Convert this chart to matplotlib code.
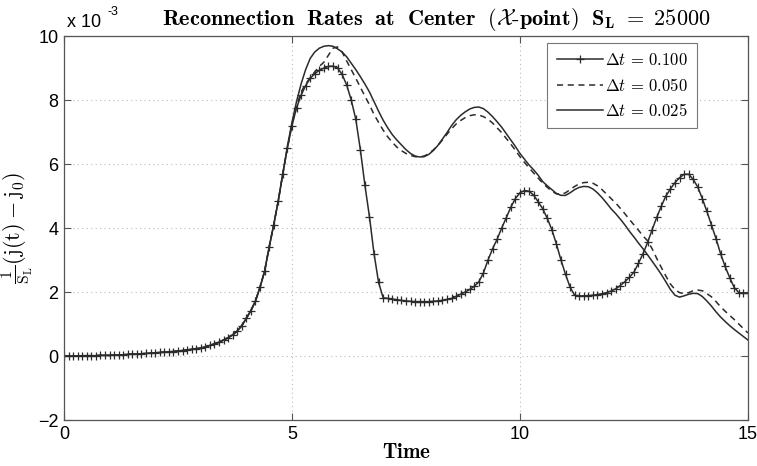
import numpy as np
import matplotlib
matplotlib.use("Agg")
import matplotlib.pyplot as plt

plt.rcParams['mathtext.fontset'] = 'cm'
plt.rcParams['font.family'] = ['Liberation Sans', 'DejaVu Sans']

# time samples of the coarse run (every 0.1)
t = np.round(np.arange(0, 151) * 0.1, 1)

# (j(t) - j0)/S_L, in units of 1e-3
rate_100 = [
    0.00, 0.00, 0.00, 0.00, 0.01, 0.01, 0.01, 0.01, 0.02, 0.02,
    0.02, 0.03, 0.03, 0.04, 0.05, 0.06, 0.06, 0.07, 0.08, 0.09,
    0.10, 0.11, 0.12, 0.13, 0.14, 0.16, 0.17, 0.19, 0.21, 0.23,
    0.25, 0.28, 0.33, 0.38, 0.43, 0.50, 0.57, 0.66, 0.78, 0.95,
    1.18, 1.42, 1.72, 2.15, 2.65, 3.40, 4.10, 4.85, 5.70, 6.50,
    7.20, 7.75, 8.15, 8.45, 8.68, 8.82, 8.93, 9.00, 9.05, 9.06,
    9.00, 8.80, 8.47, 8.00, 7.40, 6.45, 5.34, 4.35, 3.20, 2.30,
    1.82, 1.80, 1.78, 1.76, 1.74, 1.72, 1.71, 1.70, 1.70, 1.70,
    1.70, 1.71, 1.72, 1.74, 1.77, 1.80, 1.86, 1.93, 2.00, 2.08,
    2.18, 2.32, 2.60, 3.00, 3.35, 3.65, 4.00, 4.32, 4.65, 4.92,
    5.10, 5.17, 5.15, 5.03, 4.82, 4.60, 4.30, 3.95, 3.50, 3.00,
    2.55, 2.15, 1.90, 1.88, 1.88, 1.89, 1.90, 1.92, 1.95, 1.98,
    2.03, 2.10, 2.20, 2.32, 2.46, 2.62, 2.90, 3.20, 3.55, 3.95,
    4.33, 4.68, 5.00, 5.22, 5.42, 5.57, 5.68, 5.68, 5.52, 5.28,
    4.92, 4.52, 4.09, 3.67, 3.20, 2.80, 2.45, 2.14, 1.98, 1.96,
    1.96,
]

rate_050 = [
    0.00, 0.00, 0.00, 0.00, 0.01, 0.01, 0.01, 0.01, 0.02, 0.02,
    0.02, 0.03, 0.03, 0.04, 0.05, 0.06, 0.06, 0.07, 0.08, 0.09,
    0.10, 0.11, 0.12, 0.13, 0.14, 0.16, 0.17, 0.19, 0.21, 0.23,
    0.25, 0.28, 0.33, 0.38, 0.43, 0.50, 0.57, 0.66, 0.78, 0.95,
    1.18, 1.42, 1.72, 2.15, 2.65, 3.40, 4.10, 4.85, 5.70, 6.50,
    7.25, 7.80, 8.25, 8.50, 8.70, 8.88, 9.05, 9.18, 9.40, 9.62,
    9.66, 9.50, 9.22, 8.95, 8.68, 8.40, 8.12, 7.85, 7.55, 7.30,
    7.06, 6.85, 6.68, 6.53, 6.42, 6.33, 6.27, 6.23, 6.22, 6.25,
    6.32, 6.44, 6.58, 6.75, 6.93, 7.10, 7.25, 7.36, 7.45, 7.51,
    7.54, 7.53, 7.48, 7.40, 7.28, 7.13, 6.98, 6.80, 6.62, 6.43,
    6.23, 6.05, 5.88, 5.72, 5.56, 5.40, 5.27, 5.15, 5.07, 5.05,
    5.10, 5.20, 5.30, 5.38, 5.42, 5.43, 5.40, 5.32, 5.20, 5.06,
    4.92, 4.78, 4.62, 4.45, 4.27, 4.10, 3.93, 3.75, 3.60, 3.35,
    3.05, 2.77, 2.50, 2.25, 2.08, 1.98, 1.95, 1.98, 2.04, 2.06,
    2.04, 1.95, 1.85, 1.70, 1.54, 1.40, 1.27, 1.14, 1.00, 0.86,
    0.72,
]

rate_025 = [
    0.00, 0.00, 0.00, 0.00, 0.01, 0.01, 0.01, 0.01, 0.02, 0.02,
    0.02, 0.03, 0.03, 0.04, 0.05, 0.06, 0.06, 0.07, 0.08, 0.09,
    0.10, 0.11, 0.12, 0.13, 0.14, 0.16, 0.17, 0.19, 0.21, 0.23,
    0.25, 0.28, 0.33, 0.38, 0.43, 0.50, 0.57, 0.66, 0.78, 0.95,
    1.18, 1.42, 1.72, 2.15, 2.65, 3.40, 4.10, 4.85, 5.70, 6.55,
    7.30, 7.95, 8.50, 8.95, 9.30, 9.50, 9.62, 9.68, 9.70, 9.68,
    9.60, 9.50, 9.35, 9.15, 8.95, 8.73, 8.50, 8.25, 7.95, 7.65,
    7.37, 7.13, 6.92, 6.75, 6.60, 6.45, 6.33, 6.25, 6.22, 6.23,
    6.30, 6.42, 6.58, 6.78, 6.98, 7.20, 7.38, 7.52, 7.63, 7.72,
    7.77, 7.78, 7.73, 7.62, 7.48, 7.32, 7.15, 6.95, 6.75, 6.55,
    6.33, 6.15, 5.97, 5.82, 5.65, 5.45, 5.32, 5.20, 5.08, 5.02,
    5.02, 5.10, 5.20, 5.27, 5.30, 5.29, 5.22, 5.10, 4.95, 4.78,
    4.60, 4.45, 4.28, 4.10, 3.90, 3.72, 3.53, 3.35, 3.16, 2.96,
    2.76, 2.55, 2.32, 2.08, 1.90, 1.84, 1.88, 1.93, 1.96, 1.95,
    1.86, 1.72, 1.56, 1.38, 1.22, 1.08, 0.95, 0.83, 0.72, 0.61,
    0.50,
]

labels = [r'$\Delta t\, =\, 0.100$', r'$\Delta t\, =\, 0.050$', r'$\Delta t\, =\, 0.025$']
line_col = '#2b2b2b'

fig = plt.figure(figsize=(7.57, 4.66), dpi=100)
ax = fig.add_axes([0.0845, 0.0987, 0.9035, 0.824])

ax.plot(t, rate_100, color=line_col, lw=1.1, marker='+', ms=5.5, mew=0.9,
        label=labels[0])
ax.plot(t, rate_050, color=line_col, lw=1.1, ls=(0, (4, 3)), label=labels[1])
ax.plot(t, rate_025, color=line_col, lw=1.1, label=labels[2])

ax.set_xlim(0, 15)
ax.set_ylim(-2, 10)
ax.set_xticks([0, 5, 10, 15])
ax.set_yticks([-2, 0, 2, 4, 6, 8, 10])
ax.grid(True, color='#bbbbbb', ls=(0, (1, 3)), lw=0.8)
ax.tick_params(direction='in', top=True, right=True, length=5, width=0.8,
               color='#555555', labelsize=13, pad=4)
for sp in ax.spines.values():
    sp.set_color('#555555')
    sp.set_linewidth(0.9)

ax.set_title(r'$\mathbf{Reconnection\ \ Rates\ \ at\ \ Center\ \ (}\mathcal{X}'
             r'\mathbf{\text{-}point)\ \ S_L}\ =\ 25000$',
             fontsize=16, x=0.544, pad=8)
ax.set_xlabel(r'$\mathbf{Time}$', fontsize=15, labelpad=0)
ax.set_ylabel(r'$\frac{1}{\mathrm{S_L}}(\mathrm{j(t)} - \mathrm{j_0})$',
              fontsize=16, labelpad=2)

# exponent of the y axis, drawn above its top
fig.text(0.088, 0.943, 'x 10', fontsize=13, ha='left', va='baseline')
fig.text(0.142, 0.968, '-3', fontsize=9, ha='left', va='baseline')

leg = ax.legend(loc='upper right', bbox_to_anchor=(0.9254, 0.9818),
                fontsize=12, handlelength=2.8, handletextpad=0.1,
                borderaxespad=0, fancybox=False, framealpha=1,
                edgecolor='#777777', labelspacing=0.5, borderpad=0.55)
leg.get_frame().set_linewidth(0.8)

fig.savefig('out.png', dpi=100)
